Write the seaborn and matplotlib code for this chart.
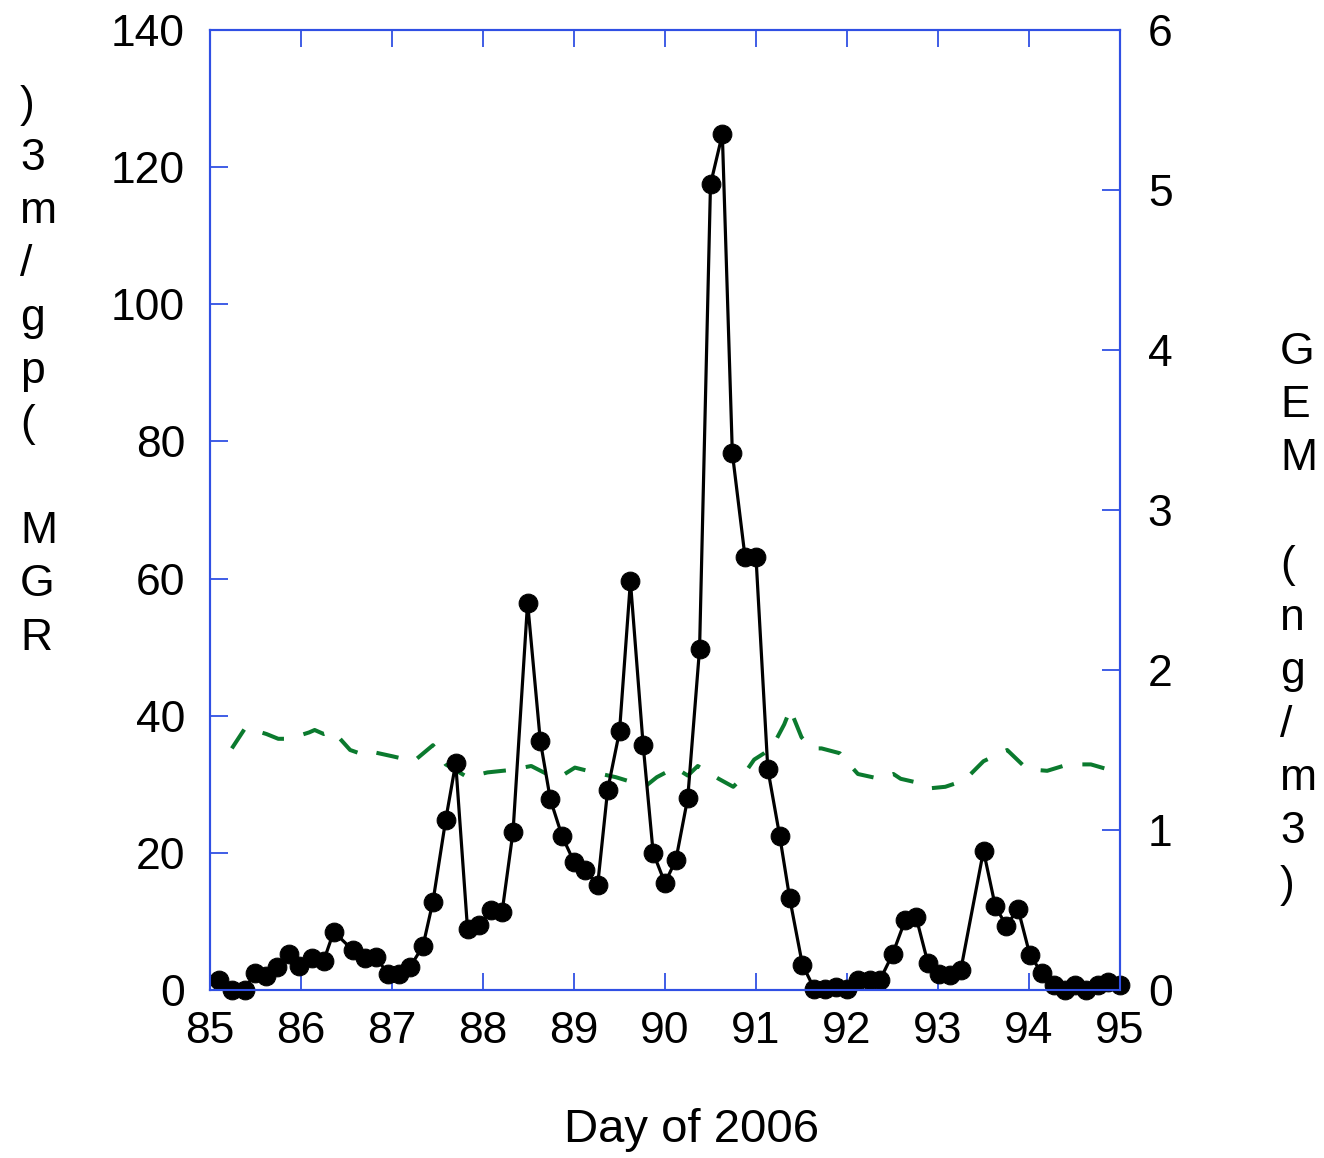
import matplotlib
matplotlib.use("Agg")
import matplotlib.pyplot as plt
import seaborn as sns
import pandas as pd

# RGM (pg/m3) -- black line with dots, left axis
rgm_day = [85.10, 85.24, 85.38, 85.49, 85.62, 85.74, 85.87, 85.98, 86.12, 86.25,
           86.36, 86.57, 86.70, 86.82, 86.96, 87.08, 87.20, 87.34, 87.45, 87.59,
           87.70, 87.83, 87.96, 88.09, 88.21, 88.33, 88.49, 88.63, 88.74, 88.87,
           89.00, 89.12, 89.26, 89.37, 89.50, 89.62, 89.76, 89.87, 90.00, 90.12,
           90.25, 90.38, 90.50, 90.63, 90.74, 90.88, 91.00, 91.13, 91.26, 91.37,
           91.51, 91.64, 91.76, 91.88, 92.00, 92.12, 92.25, 92.36, 92.50, 92.64,
           92.76, 92.89, 93.01, 93.13, 93.25, 93.50, 93.63, 93.75, 93.88, 94.01,
           94.14, 94.27, 94.40, 94.51, 94.63, 94.76, 94.87, 95.00]
rgm_val = [1.5, 0.0, 0.0, 2.5, 2.0, 3.4, 5.3, 3.5, 4.7, 4.3,
           8.5, 5.8, 4.7, 4.8, 2.3, 2.3, 3.4, 6.4, 12.9, 24.8,
           33.1, 8.9, 9.5, 11.7, 11.4, 23.1, 56.5, 36.3, 27.8, 22.4,
           18.7, 17.5, 15.3, 29.2, 37.7, 59.6, 35.7, 20.0, 15.6, 19.0,
           28.0, 49.8, 117.5, 124.8, 78.3, 63.1, 63.1, 32.2, 22.5, 13.4,
           3.7, 0.2, 0.1, 0.4, 0.2, 1.4, 1.5, 1.4, 5.2, 10.2,
           10.6, 3.9, 2.4, 2.2, 2.9, 20.3, 12.2, 9.4, 11.8, 5.1,
           2.5, 0.7, 0.0, 0.7, 0.0, 0.7, 1.2, 0.7]

# GEM (ng/m3) -- green dashed line, right axis
gem_day = [85.24, 85.39, 85.62, 85.75, 85.87, 86.09, 86.15, 86.25, 86.35, 86.54,
           86.69, 86.77, 87.01, 87.24, 87.45, 87.59, 87.83, 88.05, 88.30, 88.53,
           88.77, 88.87, 89.01, 89.22, 89.46, 89.69, 89.80, 89.91, 90.11, 90.25,
           90.36, 90.59, 90.75, 90.82, 90.98, 91.09, 91.18, 91.31, 91.38, 91.40,
           91.50, 91.61, 91.72, 91.92, 92.01, 92.12, 92.36, 92.51, 92.59, 92.82,
           92.90, 93.08, 93.29, 93.50, 93.76, 93.98, 94.20, 94.43, 94.68, 94.92]
gem_val = [1.51, 1.64, 1.60, 1.57, 1.57, 1.61, 1.625, 1.60, 1.62, 1.50,
           1.47, 1.49, 1.46, 1.43, 1.53, 1.41, 1.33, 1.36, 1.375, 1.40,
           1.33, 1.34, 1.39, 1.36, 1.33, 1.29, 1.28, 1.33, 1.39, 1.34,
           1.40, 1.32, 1.27, 1.31, 1.44, 1.48, 1.52, 1.66, 1.76, 1.72,
           1.58, 1.51, 1.51, 1.48, 1.42, 1.35, 1.32, 1.35, 1.32, 1.29,
           1.26, 1.27, 1.31, 1.43, 1.50, 1.38, 1.37, 1.41, 1.41, 1.37]

rgm_label = "RGM (pg/m3)"
gem_label = "GEM (ng/m3)"
x_label = "Day of 2006"

sns.set_theme(style="white")
plt.rcParams["font.family"] = ["Liberation Sans", "DejaVu Sans"]
plt.rcParams["text.color"] = "black"
plt.rcParams["xtick.labelcolor"] = "black"
plt.rcParams["ytick.labelcolor"] = "black"

blue = "#3050e4"
green = "#0b7a2e"
W, H = 1324, 1158

fig = plt.figure(figsize=(W / 100, H / 100), dpi=100)
ax = fig.add_axes([210 / W, 1 - 990 / H, 910 / W, 960 / H])
ax2 = ax.twinx()

rgm = pd.DataFrame({"day": rgm_day, "rgm": rgm_val})
gem = pd.DataFrame({"day": gem_day, "gem": gem_val})

sns.lineplot(data=gem, x="day", y="gem", ax=ax2, color=green, lw=2.9,
             linestyle=(0, (5.6, 5.0)), estimator=None, sort=False)
sns.lineplot(data=rgm, x="day", y="rgm", ax=ax, color="black", lw=2.3,
             marker="o", markersize=13.5, markeredgecolor="black",
             estimator=None, sort=False, clip_on=False)

# black series on top of the green one
ax.set_zorder(ax2.get_zorder() + 1)
ax.patch.set_visible(False)

ax.set_xlim(85, 95)
ax.set_ylim(0, 140)
ax2.set_ylim(0, 6)
ax.set_xticks(range(85, 96))
ax.set_yticks(range(0, 141, 20))
ax2.set_yticks(range(0, 7))
ax.set_xlabel("")
ax.set_ylabel("")
ax2.set_ylabel("")

ax.tick_params(axis="x", direction="in", length=12, width=1.3, color=blue,
               labelsize=32, labelcolor="black", pad=15, top=True, bottom=True)
ax.tick_params(axis="y", direction="in", length=13, width=1.3, color=blue,
               labelsize=32, labelcolor="black", pad=18, left=True, right=False)
ax2.tick_params(axis="y", direction="in", length=13, width=1.3, color=blue,
                labelsize=32, labelcolor="black", pad=20, right=True)
for a in (ax, ax2):
    for s in a.spines.values():
        s.set_color(blue)
        s.set_linewidth(1.5)

# stacked one-character-per-line axis titles
step = 53.3
for i, ch in enumerate(rgm_label[::-1]):
    fig.text(20 / W, 1 - (105 + i * step) / H, ch, ha="left", va="center", fontsize=32)
for i, ch in enumerate(gem_label):
    fig.text(1280 / W, 1 - (352 + i * step) / H, ch, ha="left", va="center", fontsize=32)

fig.text(692 / W, 1 - 1130 / H, x_label, ha="center", va="center", fontsize=34)

fig.savefig("out.png", dpi=100)
